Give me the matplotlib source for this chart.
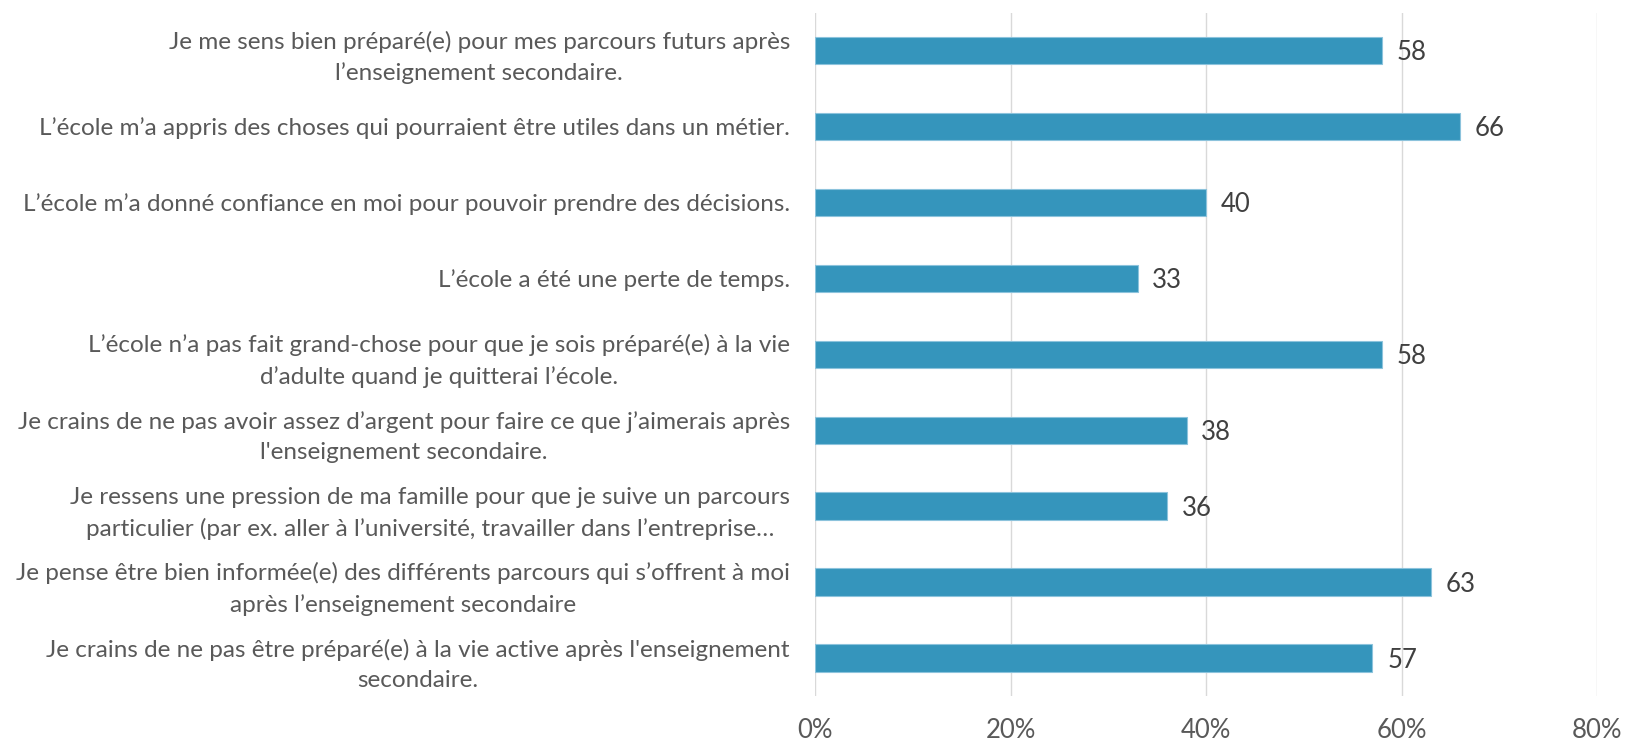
import numpy as np
import matplotlib
matplotlib.use('Agg')
import matplotlib.pyplot as plt
from matplotlib.ticker import FuncFormatter

# DONNEES
labels = [
    "Je me sens bien préparé(e) pour mes parcours futurs après\nl\u2019enseignement secondaire.",
    "L\u2019école m\u2019a appris des choses qui pourraient être utiles dans un métier.",
    "L\u2019école m\u2019a donné confiance en moi pour pouvoir prendre des décisions.",
    "L\u2019école a été une perte de temps.",
    "L\u2019école n\u2019a pas fait grand-chose pour que je sois préparé(e) à la vie\nd\u2019adulte quand je quitterai l\u2019école.",
    "Je crains de ne pas avoir assez d\u2019argent pour faire ce que j\u2019aimerais après\nl'enseignement secondaire.",
    "Je ressens une pression de ma famille pour que je suive un parcours\nparticulier (par ex. aller à l\u2019université, travailler dans l\u2019entreprise\u2026",
    "Je pense être bien informée(e) des différents parcours qui s\u2019offrent à moi\naprès l\u2019enseignement secondaire",
    "Je crains de ne pas être préparé(e) à la vie active après l'enseignement\nsecondaire.",
]
values = [58, 66, 40, 33, 58, 38, 36, 63, 57]
xticks = [0, 20, 40, 60, 80]

plt.rcParams['font.family'] = ['Lato', 'DejaVu Sans']
gris = '#595959'
bleu = '#3595bc'

fig = plt.figure(figsize=(16.25, 7.4), dpi=100)
ax = fig.add_axes([0.5015, 0.0595, 0.4815, 0.9235])

y = np.arange(len(values))
bars = ax.barh(y, values, height=0.36, color=bleu, edgecolor='#8cc3dc', linewidth=0.8, zorder=3)
for yi, v in zip(y, values):
    ax.text(v + 1.5, yi + 0.03, str(v), va='center', ha='left', fontsize=18.5, color='#404040')

ax.set_ylim(len(values) - 0.5, -0.5)
ax.set_xlim(0, 80)
ax.set_xticks(xticks)
ax.xaxis.set_major_formatter(FuncFormatter(lambda v, p: '{:.0f}%'.format(v)))
ax.set_yticks(y)
ax.set_yticklabels(labels, multialignment='center', fontsize=17.5, color=gris, linespacing=1.55)
ax.tick_params(axis='y', length=0, pad=18)
ax.tick_params(axis='x', length=0, pad=16, labelsize=18.5, labelcolor=gris)
ax.grid(axis='x', color='#d9d9d9', linewidth=1, zorder=0)
for s in ax.spines.values():
    s.set_visible(False)

fig.savefig('out.png', dpi=100)
